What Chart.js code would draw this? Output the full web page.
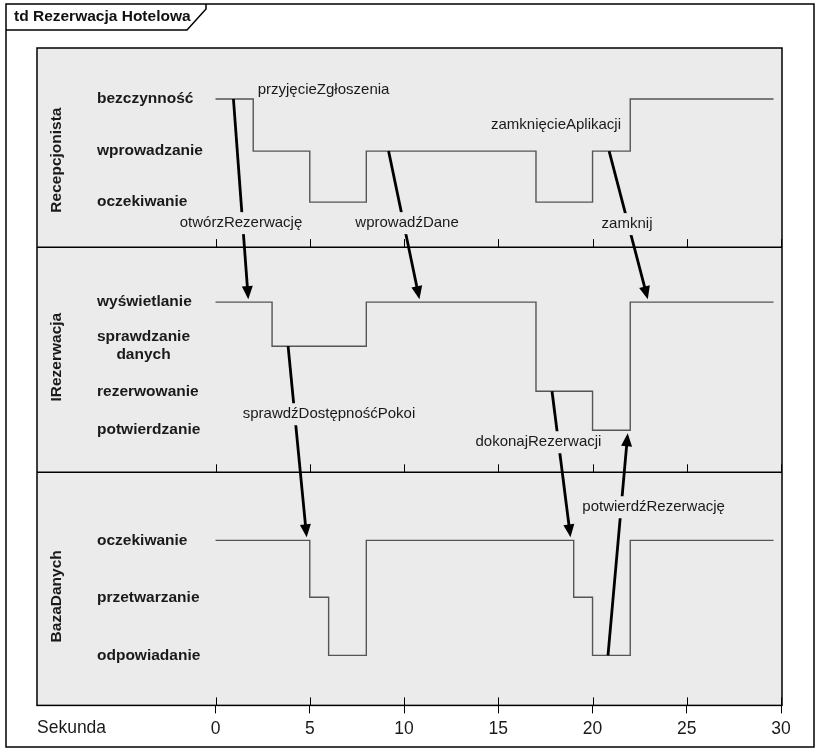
<!DOCTYPE html>
<html><head><meta charset="utf-8">
<script src="https://cdn.jsdelivr.net/npm/chart.js@4.4.0/dist/chart.umd.min.js"></script>
<style>html,body{margin:0;padding:0;background:#fff}#wrap{width:823px;height:750px;position:relative}</style>
</head><body><div id="wrap"><canvas id="c"></canvas></div>
<script>
// ---------- DATA ----------
const title = 'td Rezerwacja Hotelowa';
const axisTitle = 'Sekunda';
const tickValues = [0, 5, 10, 15, 20, 25, 30];
const lanes = ['Recepcjonista', 'IRezerwacja', 'BazaDanych'];
const recepStates = ['bezczynność', 'wprowadzanie', 'oczekiwanie'];
const rezStates = ['wyświetlanie', 'sprawdzanie\ndanych', 'rezerwowanie', 'potwierdzanie'];
const bazaStates = ['oczekiwanie', 'przetwarzanie', 'odpowiadanie'];

const recepTimes = [0, 2, 5, 8, 17, 20, 22, 29.6];
const recepValues = ['bezczynność', 'wprowadzanie', 'oczekiwanie', 'wprowadzanie', 'oczekiwanie', 'wprowadzanie', 'bezczynność', 'bezczynność'];
const rezTimes = [0, 3, 8, 17, 20, 22, 29.6];
const rezValues = ['wyświetlanie', 'sprawdzanie\ndanych', 'wyświetlanie', 'rezerwowanie', 'potwierdzanie', 'wyświetlanie', 'wyświetlanie'];
const bazaTimes = [0, 5, 6, 8, 19, 20, 22, 29.6];
const bazaValues = ['oczekiwanie', 'przetwarzanie', 'odpowiadanie', 'oczekiwanie', 'przetwarzanie', 'odpowiadanie', 'oczekiwanie', 'oczekiwanie'];

const messageNames = ['otwórzRezerwację', 'wprowadźDane', 'zamknij', 'sprawdźDostępnośćPokoi', 'dokonajRezerwacji', 'potwierdźRezerwację'];
const messageFromLane = [0, 0, 0, 1, 1, 2];
const messageFromState = ['bezczynność', 'wprowadzanie', 'wprowadzanie', 'sprawdzanie\ndanych', 'rezerwowanie', 'odpowiadanie'];
const messageFromTime = [0.95, 9.18, 20.88, 3.85, 17.85, 20.82];
const messageToLane = [1, 1, 1, 2, 2, 1];
const messageToState = ['wyświetlanie', 'wyświetlanie', 'wyświetlanie', 'oczekiwanie', 'oczekiwanie', 'potwierdzanie'];
const messageToTime = [1.75, 10.85, 22.97, 4.85, 18.85, 21.88];

const eventNames = ['przyjęcieZgłoszenia', 'zamknięcieAplikacji'];

// ---------- LAYOUT (positions / styles) ----------
const layoutCfg = {
  laneBounds: [0, 30.29, 64.54, 100],
  stateLevels: [
    {'bezczynność': 7.76, 'wprowadzanie': 15.68, 'oczekiwanie': 23.44},
    {'wyświetlanie': 38.66, 'sprawdzanie\ndanych': 45.36, 'rezerwowanie': 52.21, 'potwierdzanie': 58.14},
    {'oczekiwanie': 74.89, 'przetwarzanie': 83.56, 'odpowiadanie': 92.39}
  ],
  laneLabelY: [17.05, 47.03, 83.41],
  msgLabelPos: [[1.35, 26.64], [10.16, 26.64], [21.83, 26.79], [6.02, 55.71], [17.13, 59.97], [23.24, 69.86]],
  eventLabelPos: [[5.73, 6.39], [18.06, 11.72]],
  xMin: -9.47, xMax: 30.05
};
const FONT = "'Liberation Sans', Arial, sans-serif";
const laneStates = [recepStates, rezStates, bazaStates];

function series(times, values, lane) {
  return times.map((t, i) => ({x: t, y: layoutCfg.stateLevels[lane][values[i]]}));
}
const lineStyle = {stepped: true, borderColor: '#555555', borderWidth: 1.4, pointRadius: 0, fill: false};

const diagramPlugin = {
  id: 'diagram',
  beforeDraw(chart) {
    const ctx = chart.ctx, a = chart.chartArea;
    ctx.save();
    ctx.fillStyle = '#fff';
    ctx.fillRect(0, 0, chart.width, chart.height);
    ctx.strokeStyle = '#000'; ctx.lineWidth = 1.5;
    ctx.strokeRect(6, 4, 808, 743);
    ctx.beginPath();
    ctx.moveTo(6, 30); ctx.lineTo(187, 30); ctx.lineTo(206, 9); ctx.lineTo(206, 4);
    ctx.stroke();
    ctx.fillStyle = '#111';
    ctx.font = 'bold 15.5px ' + FONT;
    ctx.textBaseline = 'middle'; ctx.textAlign = 'left';
    ctx.fillText(title, 14, 17);
    ctx.fillStyle = '#ebebeb';
    ctx.fillRect(a.left, a.top, a.right - a.left, a.bottom - a.top);
    ctx.restore();
  },
  afterDatasetsDraw(chart) {
    const ctx = chart.ctx, a = chart.chartArea;
    const xs = chart.scales.x, ys = chart.scales.y;
    const px = v => xs.getPixelForValue(v), py = v => ys.getPixelForValue(v);
    ctx.save();
    ctx.strokeStyle = '#000'; ctx.lineWidth = 1.5;
    layoutCfg.laneBounds.slice(1, -1).forEach(b => {
      ctx.beginPath(); ctx.moveTo(a.left, py(b)); ctx.lineTo(a.right, py(b)); ctx.stroke();
    });
    ctx.lineWidth = 1;
    layoutCfg.laneBounds.slice(1).forEach(b => {
      tickValues.forEach(t => {
        const x = Math.round(px(t)) + 0.5;
        ctx.beginPath(); ctx.moveTo(x, py(b)); ctx.lineTo(x, py(b) - 8); ctx.stroke();
      });
    });
    ctx.lineWidth = 1.5;
    ctx.strokeRect(a.left, a.top, a.right - a.left, a.bottom - a.top);

    ctx.strokeStyle = '#000'; ctx.fillStyle = '#000';
    messageNames.forEach((m, i) => {
      const x1 = px(messageFromTime[i]), y1 = py(layoutCfg.stateLevels[messageFromLane[i]][messageFromState[i]]);
      const x2 = px(messageToTime[i]), y2raw = py(layoutCfg.stateLevels[messageToLane[i]][messageToState[i]]);
      const dx = x2 - x1, dy = y2raw - y1, len = Math.hypot(dx, dy);
      const ux = dx / len, uy = dy / len;
      const tx = x2 - ux * 3, ty = y2raw - uy * 3;
      const hl = 13, hw = 5.5;
      ctx.lineWidth = 2.8;
      ctx.beginPath(); ctx.moveTo(x1, y1); ctx.lineTo(tx - ux * hl * 0.8, ty - uy * hl * 0.8); ctx.stroke();
      ctx.beginPath();
      ctx.moveTo(tx, ty);
      ctx.lineTo(tx - ux * hl - uy * hw, ty - uy * hl + ux * hw);
      ctx.lineTo(tx - ux * hl + uy * hw, ty - uy * hl - ux * hw);
      ctx.closePath(); ctx.fill();
    });

    ctx.font = '15px ' + FONT;
    ctx.textAlign = 'center'; ctx.textBaseline = 'middle';
    const drawLabel = (txt, pos) => {
      const x = px(pos[0]), y = py(pos[1]);
      const w = ctx.measureText(txt).width;
      ctx.fillStyle = '#ebebeb';
      ctx.fillRect(x - w / 2 - 1, y - 11, w + 2, 22);
      ctx.fillStyle = '#1a1a1a';
      ctx.fillText(txt, x, y);
    };
    messageNames.forEach((m, i) => drawLabel(m, layoutCfg.msgLabelPos[i]));
    eventNames.forEach((m, i) => drawLabel(m, layoutCfg.eventLabelPos[i]));

    ctx.font = 'bold 15.5px ' + FONT;
    ctx.fillStyle = '#1a1a1a';
    const sx = a.left + 60;
    laneStates.forEach((states, li) => {
      states.forEach(s => {
        const y = py(layoutCfg.stateLevels[li][s]);
        const parts = s.split('\n');
        if (parts.length === 1) {
          ctx.textAlign = 'left'; ctx.fillText(s, sx, y);
        } else {
          const mw = Math.max(...parts.map(p => ctx.measureText(p).width));
          ctx.textAlign = 'center';
          parts.forEach((p, k) => ctx.fillText(p, sx + mw / 2, y + (k - (parts.length - 1) / 2) * 18));
        }
      });
    });
    lanes.forEach((l, i) => {
      ctx.save();
      ctx.translate(a.left + 20, py(layoutCfg.laneLabelY[i]));
      ctx.rotate(-Math.PI / 2);
      ctx.textAlign = 'center';
      ctx.fillText(l, 0, 0);
      ctx.restore();
    });
    ctx.font = '17.5px ' + FONT;
    ctx.textAlign = 'left'; ctx.fillStyle = '#1a1a1a';
    ctx.fillText(axisTitle, a.left, 728);
    ctx.restore();
  }
};

new Chart(document.getElementById('c'), {
  type: 'line',
  data: {
    datasets: [
      Object.assign({label: lanes[0], data: series(recepTimes, recepValues, 0)}, lineStyle),
      Object.assign({label: lanes[1], data: series(rezTimes, rezValues, 1)}, lineStyle),
      Object.assign({label: lanes[2], data: series(bazaTimes, bazaValues, 2)}, lineStyle)
    ]
  },
  options: {
    responsive: true, maintainAspectRatio: false, animation: false,
    layout: {padding: {left: 37, top: 48, right: 41, bottom: 5.6}},
    plugins: {legend: {display: false}, tooltip: {enabled: false}},
    scales: {
      x: {
        type: 'linear', min: layoutCfg.xMin, max: layoutCfg.xMax,
        afterBuildTicks: s => { s.ticks = tickValues.map(v => ({value: v})); },
        grid: {drawOnChartArea: false, drawTicks: true, tickLength: 8, color: '#000'},
        border: {display: false},
        ticks: {font: {family: FONT, size: 17.5}, color: '#1a1a1a', padding: 5, maxRotation: 0, autoSkip: false}
      },
      y: {type: 'linear', reverse: true, min: 0, max: 100, display: false}
    }
  },
  plugins: [diagramPlugin]
});
</script>
</body></html>
